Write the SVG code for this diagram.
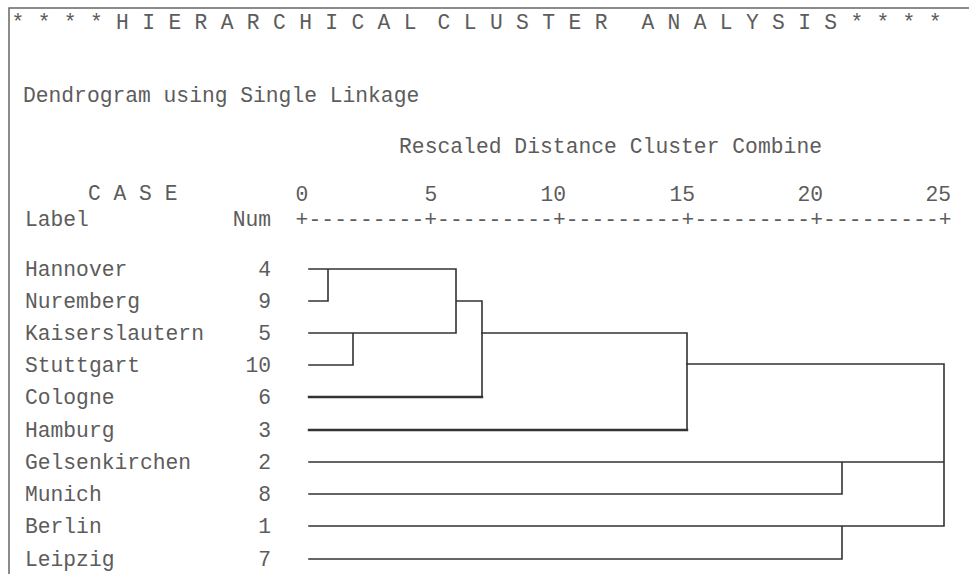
<svg xmlns="http://www.w3.org/2000/svg" width="969" height="574" viewBox="0 0 969 574">
<style>
  text { font-family: "Liberation Mono", "DejaVu Sans Mono", monospace; font-size: 21.3px; fill: #5c5c5c; }
  .num { text-anchor: end; }
  .mid { text-anchor: middle; }
  .end { text-anchor: end; }
  .frame { stroke: #666; stroke-width: 1.5; fill: none; }
  .link { stroke: #333; stroke-width: 1.6; fill: none; stroke-linecap: square; }
  .bold { stroke-width: 2.4; }
</style>
<rect x="0" y="0" width="969" height="574" fill="#ffffff"/>
<path class="frame" d="M969,8 H9 V574"/>

<g id="title">
  <text y="29" xml:space="preserve"><tspan x="11.5" textLength="405" lengthAdjust="spacing">* * * * H I E R A R C H I C A L</tspan><tspan x="437.5" textLength="170" lengthAdjust="spacing">C L U S T E R</tspan><tspan x="641.5" textLength="300" lengthAdjust="spacing">A N A L Y S I S * * * *</tspan></text>
</g>
<g id="subtitle">
  <text x="23" y="102">Dendrogram using Single Linkage</text>
</g>
<g id="axis-title">
  <text x="399" y="153" textLength="423" lengthAdjust="spacing">Rescaled Distance Cluster Combine</text>
</g>
<g id="header">
  <text x="88" y="200" xml:space="preserve">C A S E</text>
  <text x="25" y="226">Label</text>
  <text class="end" x="271" y="226">Num</text>
</g>
<g id="axis">
  <text class="mid" x="302" y="201">0</text>
  <text class="mid" x="431" y="201">5</text>
  <text class="end" x="566" y="201">10</text>
  <text class="end" x="695" y="201">15</text>
  <text class="end" x="823" y="201">20</text>
  <text class="end" x="951" y="201">25</text>
  <text x="295.6" y="226" textLength="656" lengthAdjust="spacing">+---------+---------+---------+---------+---------+</text>
</g>

<g id="case-hannover"><text x="25" y="276">Hannover</text><text class="num" x="271" y="276">4</text></g>
<g id="case-nuremberg"><text x="25" y="308">Nuremberg</text><text class="num" x="271" y="308">9</text></g>
<g id="case-kaiserslautern"><text x="25" y="340">Kaiserslautern</text><text class="num" x="271" y="340">5</text></g>
<g id="case-stuttgart"><text x="25" y="372">Stuttgart</text><text class="num" x="271" y="372">10</text></g>
<g id="case-cologne"><text x="25" y="404">Cologne</text><text class="num" x="271" y="404">6</text></g>
<g id="case-hamburg"><text x="25" y="437">Hamburg</text><text class="num" x="271" y="437">3</text></g>
<g id="case-gelsenkirchen"><text x="25" y="469">Gelsenkirchen</text><text class="num" x="271" y="469">2</text></g>
<g id="case-munich"><text x="25" y="501">Munich</text><text class="num" x="271" y="501">8</text></g>
<g id="case-berlin"><text x="25" y="533">Berlin</text><text class="num" x="271" y="533">1</text></g>
<g id="case-leipzig"><text x="25" y="566">Leipzig</text><text class="num" x="271" y="566">7</text></g>

<g id="connectors">
  <path class="link" d="M309,269 H456 M309,301 H328 V269 M309,333 H456 M309,365 H353 V333 M456,269 V333 M456,301 H482 V397"/>
  <path class="link bold" d="M309,397 H482"/>
  <path class="link" d="M482,333 H687 V430"/>
  <path class="link bold" d="M309,430 H687"/>
  <path class="link" d="M687,364 H944 V526 M309,462 H944 M842,462 V494 M309,494 H842 M309,526 H944 M842,526 V559 M309,559 H842"/>
</g>
</svg>
